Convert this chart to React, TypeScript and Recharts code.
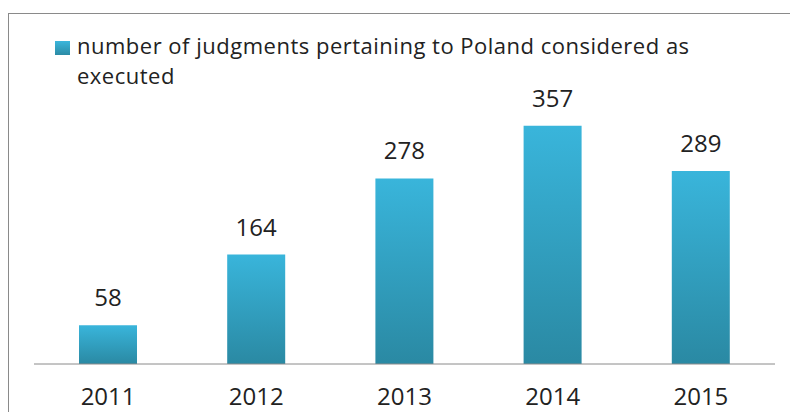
import { BarChart, Bar, XAxis, YAxis, LabelList } from 'recharts'

const years = ['2011', '2012', '2013', '2014', '2015']
const judgments = [58, 164, 278, 357, 289]

// legend text wraps onto two lines in the original
const seriesNameLines = ['number of judgments pertaining to Poland considered as', 'executed']

const data = years.map((year, i) => ({ year, judgments: judgments[i] }))

const font = '"Open Sans", sans-serif'

const YearTick = ({ x, y, payload }: any) => (
  <text x={x} y={y} dy={33} textAnchor="middle" fontSize={24} fill="#222" fontFamily={font}>
    {payload.value}
  </text>
)

export default function App() {
  return (
    <div style={{ position: 'absolute', left: 0, top: 0, width: 790, height: 412, overflow: 'hidden', background: '#fff' }}>
      <div
        style={{
          position: 'absolute',
          left: 8,
          top: 13,
          width: 820,
          height: 440,
          border: '1.5px solid #8a8a8a',
        }}
      />
      <div
        style={{
          position: 'absolute',
          left: 55,
          top: 41,
          width: 15,
          height: 14,
          background: 'linear-gradient(#3bb6dc, #2b8ba5)',
        }}
      />
      {seriesNameLines.map((line, i) => (
        <div
          key={i}
          style={{
            position: 'absolute',
            left: 77,
            top: 31 + i * 30,
            whiteSpace: 'nowrap',
            fontFamily: font,
            fontSize: 22,
            letterSpacing: '0.5px',
            lineHeight: '28px',
            color: '#222',
          }}
        >
          {line}
        </div>
      ))}
      <BarChart
        width={790}
        height={412}
        data={data}
        margin={{ top: 97, right: 15, left: 34, bottom: 8 }}
        barCategoryGap={45}
      >
        <defs>
          <linearGradient id="barFill" x1="0" y1="0" x2="0" y2="1">
            <stop offset="0%" stopColor="#39b5db" />
            <stop offset="100%" stopColor="#2a89a3" />
          </linearGradient>
        </defs>
        <XAxis
          dataKey="year"
          height={40}
          axisLine={{ stroke: '#8a8a8a', strokeWidth: 1 }}
          tickLine={false}
          tick={<YearTick />}
          interval={0}
        />
        <YAxis hide domain={[0, 400]} />
        <Bar dataKey="judgments" fill="url(#barFill)" isAnimationActive={false}>
          <LabelList
            dataKey="judgments"
            position="top"
            offset={19}
            fontSize={24}
            fill="#222"
            fontFamily={font}
          />
        </Bar>
      </BarChart>
    </div>
  )
}
